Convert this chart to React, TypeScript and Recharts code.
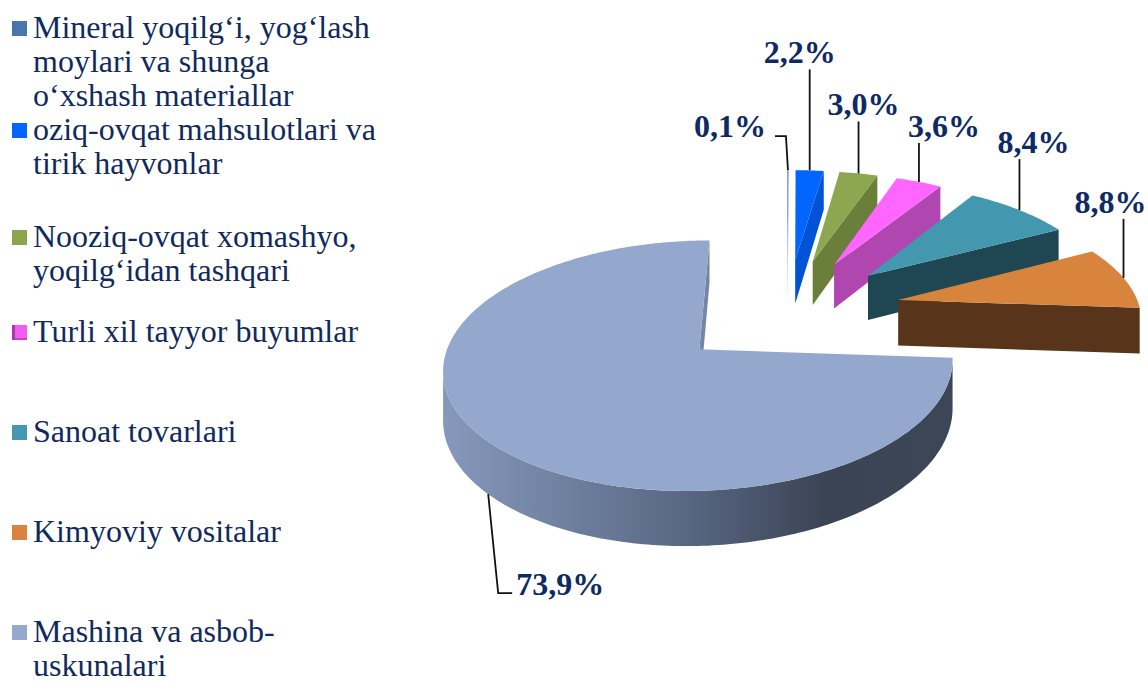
import { PieChart, Pie } from 'recharts';

const CATEGORIES = [
  'Mineral yoqilg‘i, yog‘lash moylari va shunga o‘xshash materiallar',
  'oziq-ovqat mahsulotlari va tirik hayvonlar',
  'Nooziq-ovqat xomashyo, yoqilg‘idan tashqari',
  'Turli xil tayyor buyumlar',
  'Sanoat tovarlari',
  'Kimyoviy vositalar',
  'Mashina va asbob-uskunalari',
];
const SHARES = [0.1, 2.2, 3.0, 3.6, 8.4, 8.8, 73.9];
const PERCENT_LABELS = SHARES.map((v) => v.toFixed(1).replace('.', ',') + '%');

const rows = CATEGORIES.map((name, i) => ({ name, value: SHARES[i] }));

// colours: top face, side faces, legend keys
const TOP_COLORS = ['#4F81BD', '#0066FF', '#8CA74F', '#FF66FF', '#4397AE', '#D9843C', '#94A8CE'];
const SIDE_COLORS = ['#A9BEDA', '#0052D6', '#6A7F3A', '#B046B0', '#1F4753', '#58341A', '#7385A8'];
const LEGEND_COLORS = ['#4A76AB', '#0066FF', '#8BA54C', '#F25CF2', '#4498AF', '#D8843C', '#95A9CF'];
const LEGEND_TOPS = [10, 112, 219, 314, 414, 514, 614];
const NAVY = '#102A5E';
const FONT = '"Liberation Serif", "Times New Roman", serif';

// fake 3d: perspective + tilt, every slice pulled out the same distance
const VIEW_DIST = 1925;
const TILT = 0.468;
const DEPTH = 46;
const EXPLODE = 115;
const RAD = Math.PI / 180;

type Lay = { kind: 'up' | 'left' | 'down'; len: number; dx?: number; run?: number };
const LABEL_LAYOUT: Lay[] = [
  { kind: 'left', len: 34, run: 11 },
  { kind: 'up', len: 101, dx: -10 },
  { kind: 'up', len: 52, dx: 5 },
  { kind: 'up', len: 39, dx: 25 },
  { kind: 'up', len: 51, dx: 14 },
  { kind: 'up', len: 59, dx: -13 },
  { kind: 'down', len: 99, dx: 10, run: 14 },
];

const pts = (list: number[][]) => list.map(([x, y]) => `${x.toFixed(2)},${y.toFixed(2)}`).join(' ');

function renderSlice(props: any) {
  const { cx, cy, outerRadius: r, startAngle, endAngle, index } = props;
  const mid = (startAngle + endAngle) / 2;
  const ox = EXPLODE * Math.cos(mid * RAD);
  const oy = EXPLODE * Math.sin(mid * RAD);
  const camY = -VIEW_DIST;

  const proj = (x: number, y: number, h: number) => {
    const p = VIEW_DIST / (VIEW_DIST + y);
    return [cx + x * p, cy + (-y * TILT + h) * p];
  };
  const arc = (t: number) => [ox + r * Math.cos(t * RAD), oy + r * Math.sin(t * RAD)];

  const steps = Math.max(2, Math.ceil(Math.abs(startAngle - endAngle)));
  const angles = Array.from({ length: steps + 1 }, (_, i) => startAngle + ((endAngle - startAngle) * i) / steps);

  const top = [proj(ox, oy, 0), ...angles.map((t) => { const [x, y] = arc(t); return proj(x, y, 0); })];

  // outer wall, only the part facing the camera
  const runs: number[][] = [];
  let cur: number[] = [];
  angles.forEach((t) => {
    const [x, y] = arc(t);
    const vis = -x * Math.cos(t * RAD) + (camY - y) * Math.sin(t * RAD) > 0;
    if (vis) cur.push(t);
    else if (cur.length) { runs.push(cur); cur = []; }
  });
  if (cur.length) runs.push(cur);
  const walls = runs.filter((run) => run.length > 1).map((run) => {
    const up = run.map((t) => { const [x, y] = arc(t); return proj(x, y, 0); });
    const down = run.slice().reverse().map((t) => { const [x, y] = arc(t); return proj(x, y, DEPTH); });
    return [...up, ...down];
  });

  const radial = (a: number, n: number[]) => {
    const [ax, ay] = arc(a);
    const mx = (ox + ax) / 2;
    const my = (oy + ay) / 2;
    if (n[0] * -mx + n[1] * (camY - my) <= 0) return null;
    return [proj(ox, oy, 0), proj(ax, ay, 0), proj(ax, ay, DEPTH), proj(ox, oy, DEPTH)];
  };
  const faces = [
    radial(startAngle, [-Math.sin(startAngle * RAD), Math.cos(startAngle * RAD)]),
    radial(endAngle, [Math.sin(endAngle * RAD), -Math.cos(endAngle * RAD)]),
  ].filter(Boolean) as number[][][];

  const isMain = index === SHARES.length - 1;
  const wallFill = isMain ? 'url(#mainSide)' : SIDE_COLORS[index];

  // leader + label
  const lay = LABEL_LAYOUT[index];
  const [amx, amy] = arc(mid);
  const [px, py] = proj(amx, amy, lay.kind === 'down' ? DEPTH : 0);
  let line: number[][];
  let tx: number;
  let ty: number;
  let anchor: 'start' | 'middle' | 'end';
  if (lay.kind === 'up') {
    line = [[px, py], [px, py - lay.len]];
    tx = px + (lay.dx ?? 0);
    ty = py - lay.len - 6;
    anchor = 'middle';
  } else if (lay.kind === 'left') {
    const run = lay.run ?? 10;
    line = [[px, py], [px - 2, py - lay.len], [px - 2 - run, py - lay.len]];
    tx = px - 2 - run - 9;
    ty = py - lay.len + 1;
    anchor = 'end';
  } else {
    const run = lay.run ?? 10;
    const slant = lay.dx ?? 8;
    line = [[px, py], [px + slant, py + lay.len], [px + slant + run, py + lay.len]];
    tx = px + slant + run + 4;
    ty = py + lay.len + 2;
    anchor = 'start';
  }

  return (
    <g key={`slice-${index}`}>
      {isMain && (
        <defs>
          <linearGradient id="mainSide" x1="0" y1="0" x2="1" y2="0">
            <stop offset="0" stopColor="#8699BC" />
            <stop offset="0.45" stopColor="#5B6A86" />
            <stop offset="0.75" stopColor="#3A4455" />
            <stop offset="1" stopColor="#3C4657" />
          </linearGradient>
        </defs>
      )}
      {walls.map((w, i) => (
        <polygon key={`w${i}`} points={pts(w)} fill={wallFill} />
      ))}
      {faces.map((f, i) => (
        <polygon key={`f${i}`} points={pts(f)} fill={SIDE_COLORS[index]} />
      ))}
      <polygon points={pts(top)} fill={TOP_COLORS[index]} />
      <polyline points={pts(line)} fill="none" stroke="#111" strokeWidth={1.8} />
      <text
        x={tx}
        y={ty}
        textAnchor={anchor}
        fontFamily={FONT}
        fontWeight="bold"
        fontSize={32}
        fill="#0E2A66"
      >
        {PERCENT_LABELS[index]}
      </text>
    </g>
  );
}

export default function App() {
  return (
    <div
      style={{
        position: 'absolute',
        left: 0,
        top: 0,
        width: 1148,
        height: 682,
        background: '#fff',
        fontFamily: FONT,
        overflow: 'hidden',
      }}
    >
      <div style={{ position: 'absolute', left: 0, top: 0 }}>
        <PieChart width={1148} height={682}>
          <Pie
            data={rows}
            dataKey="value"
            nameKey="name"
            cx={782}
            cy={306}
            outerRadius={242}
            startAngle={90}
            endAngle={-270}
            fill="none"
            stroke="none"
            label={renderSlice}
            labelLine={false}
            isAnimationActive={false}
          />
        </PieChart>
      </div>
      {CATEGORIES.map((name, i) => (
        <div key={name} style={{ position: 'absolute', left: 0, top: LEGEND_TOPS[i], width: 390 }}>
          <span
            style={{
              position: 'absolute',
              left: 12,
              top: 11,
              width: 15,
              height: 15,
              background: LEGEND_COLORS[i],
              boxShadow: i === 3 ? 'inset 3px 0 0 #A83AA8, inset 0 -2px 0 #C248C2' : undefined,
            }}
          />
          <div
            style={{
              marginLeft: 33,
              width: 348,
              fontSize: 32,
              lineHeight: '34px',
              color: NAVY,
            }}
          >
            {name}
          </div>
        </div>
      ))}
    </div>
  );
}
